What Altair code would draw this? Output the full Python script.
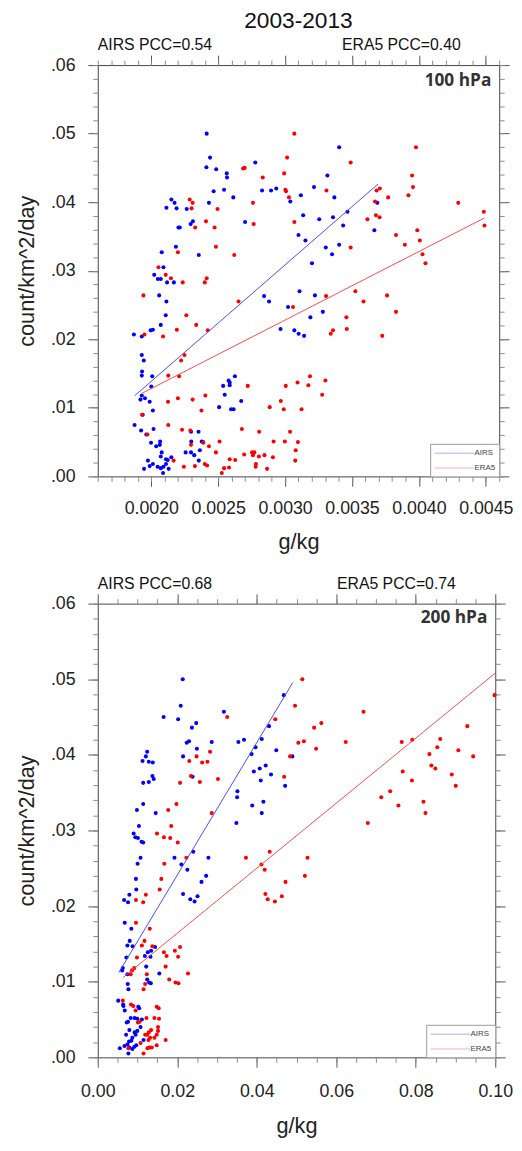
import altair as alt
import pandas as pd

F = "Liberation Sans"
TITLE = "2003-2013"
SERIES = ["AIRS", "ERA5"]
POINT_COLORS = ["#0000ff", "#ff0000"]
LINE_COLORS = ["#4a4aff", "#ff4a4a"]
LEVELS = ["100 hPa", "200 hPa"]
PCC100 = ["AIRS PCC=0.54", "ERA5 PCC=0.40"]
PCC200 = ["AIRS PCC=0.68", "ERA5 PCC=0.74"]
X_TITLE = "g/kg"
Y_TITLE = "count/km^2/day"

# ---- 100 hPa (x, y) ----
p100_airs = [
    (0.002414, 0.0500), (0.002439, 0.0465), (0.002412, 0.0451), (0.002485, 0.0448), (0.002564, 0.0442),
    (0.002566, 0.0436), (0.002777, 0.0458), (0.002466, 0.0416), (0.002544, 0.0418), (0.002613, 0.0407),
    (0.002431, 0.0399), (0.002150, 0.0404), (0.002174, 0.0399), (0.002113, 0.0392), (0.002189, 0.0391),
    (0.002265, 0.0390), (0.002311, 0.0372), (0.002294, 0.0368), (0.002203, 0.0363), (0.002213, 0.0363),
    (0.002184, 0.0335), (0.002078, 0.0327), (0.002355, 0.0323), (0.002701, 0.0371), (0.002828, 0.0417),
    (0.002895, 0.0417), (0.002934, 0.0420), (0.003039, 0.0401), (0.003118, 0.0410), (0.003216, 0.0422),
    (0.003316, 0.0439), (0.003404, 0.0480), (0.003135, 0.0381), (0.003100, 0.0352), (0.003152, 0.0344),
    (0.003255, 0.0375), (0.003358, 0.0378), (0.003368, 0.0407), (0.003466, 0.0386), (0.003434, 0.0366),
    (0.003304, 0.0334), (0.003351, 0.0324), (0.003404, 0.0338), (0.003201, 0.0311), (0.003667, 0.0359),
    (0.003689, 0.0399), (0.002091, 0.0305),
    (0.002022, 0.0294), (0.002049, 0.0288), (0.002071, 0.0288), (0.002118, 0.0283), (0.002169, 0.0283),
    (0.002059, 0.0264), (0.002113, 0.0255), (0.002108, 0.0235), (0.002071, 0.0221), (0.002012, 0.0214),
    (0.001995, 0.0213), (0.001870, 0.0207), (0.001929, 0.0204), (0.001929, 0.0177), (0.001944, 0.0169),
    (0.001931, 0.0153), (0.001929, 0.0147), (0.002007, 0.0146), (0.002000, 0.0131), (0.001929, 0.0118),
    (0.001919, 0.0112), (0.001953, 0.0114), (0.001988, 0.0109), (0.002012, 0.0096), (0.001936, 0.0090),
    (0.001875, 0.0075), (0.001924, 0.0067), (0.002017, 0.0069), (0.001963, 0.0061), (0.002066, 0.0051),
    (0.001998, 0.0049), (0.002037, 0.0044), (0.002064, 0.0046), (0.002078, 0.0035), (0.002071, 0.0029),
    (0.002150, 0.0028), (0.002110, 0.0025), (0.002123, 0.0024), (0.001975, 0.0023), (0.002012, 0.0018),
    (0.001988, 0.0015), (0.001946, 0.0011), (0.002047, 0.0014), (0.002071, 0.0012), (0.002091, 0.0014),
    (0.002110, 0.0018), (0.002130, 0.0011), (0.002088, 0.0005), (0.002843, 0.0263), (0.002880, 0.0255),
    (0.003108, 0.0270), (0.003022, 0.0247), (0.003223, 0.0264), (0.003282, 0.0240), (0.003189, 0.0232),
    (0.002966, 0.0215), (0.003069, 0.0213), (0.003101, 0.0208), (0.003142, 0.0205), (0.002625, 0.0146),
    (0.002578, 0.0140), (0.002586, 0.0137), (0.002537, 0.0132), (0.002586, 0.0133), (0.002549, 0.0119),
    (0.002672, 0.0110), (0.002507, 0.0101), (0.002596, 0.0098), (0.002615, 0.0098), (0.002297, 0.0065),
    (0.002353, 0.0065), (0.002299, 0.0051), (0.002377, 0.0051), (0.002387, 0.0050), (0.002257, 0.0035),
    (0.002297, 0.0035), (0.002363, 0.0038), (0.002321, 0.0031), (0.002355, 0.0023),
]
p100_era5 = [
    (0.003069, 0.0500), (0.003015, 0.0465), (0.002993, 0.0442), (0.003002, 0.0418), (0.003007, 0.0416),
    (0.003029, 0.0407), (0.003069, 0.0371), (0.002686, 0.0449), (0.002698, 0.0450), (0.002833, 0.0436),
    (0.002760, 0.0399), (0.002765, 0.0368), (0.002620, 0.0323), (0.002495, 0.0390), (0.002473, 0.0363),
    (0.002409, 0.0372), (0.002483, 0.0335), (0.002287, 0.0404), (0.002309, 0.0399), (0.002301, 0.0391),
    (0.002328, 0.0363), (0.002199, 0.0327), (0.002054, 0.0305), (0.002108, 0.0294), (0.002414, 0.0289),
    (0.003309, 0.0417), (0.003490, 0.0458), (0.003490, 0.0334), (0.003615, 0.0375), (0.003684, 0.0417),
    (0.003708, 0.0420), (0.003672, 0.0401), (0.003679, 0.0381), (0.003706, 0.0378), (0.003770, 0.0407),
    (0.003829, 0.0352), (0.003895, 0.0338), (0.003922, 0.0410), (0.003949, 0.0439), (0.003956, 0.0422),
    (0.003978, 0.0480), (0.003988, 0.0359), (0.004007, 0.0344), (0.004027, 0.0324), (0.004049, 0.0311),
    (0.004294, 0.0399), (0.004485, 0.0386), (0.004490, 0.0366),
    (0.002147, 0.0289), (0.002235, 0.0283), (0.002400, 0.0283), (0.001941, 0.0264), (0.002652, 0.0255),
    (0.002262, 0.0235), (0.002336, 0.0221), (0.002191, 0.0214), (0.002422, 0.0213), (0.001949, 0.0207),
    (0.002088, 0.0204), (0.002248, 0.0177), (0.002223, 0.0169), (0.002208, 0.0146), (0.002127, 0.0147),
    (0.002199, 0.0114), (0.002125, 0.0109), (0.002309, 0.0112), (0.002404, 0.0118), (0.002375, 0.0096),
    (0.001931, 0.0090), (0.002127, 0.0075), (0.002230, 0.0068), (0.002292, 0.0067), (0.002677, 0.0069),
    (0.001971, 0.0061), (0.002297, 0.0046), (0.002389, 0.0049), (0.002431, 0.0044), (0.002510, 0.0051),
    (0.002483, 0.0035), (0.002167, 0.0023), (0.002243, 0.0014), (0.002326, 0.0015), (0.002400, 0.0018),
    (0.002417, 0.0016), (0.002544, 0.0012), (0.002527, 0.0005), (0.002581, 0.0013), (0.002586, 0.0025),
    (0.002627, 0.0024), (0.002694, 0.0032), (0.002753, 0.0035), (0.002760, 0.0031), (0.002770, 0.0035),
    (0.002782, 0.0018), (0.002780, 0.0014), (0.002804, 0.0029), (0.002846, 0.0031), (0.002865, 0.0011),
    (0.002909, 0.0028), (0.002806, 0.0065), (0.002914, 0.0051), (0.002998, 0.0051), (0.003096, 0.0050),
    (0.003079, 0.0038), (0.003076, 0.0023), (0.003037, 0.0065), (0.002721, 0.0132), (0.002885, 0.0101),
    (0.002968, 0.0110), (0.002990, 0.0098), (0.003005, 0.0132), (0.003093, 0.0137), (0.003123, 0.0098),
    (0.003174, 0.0133), (0.003186, 0.0146), (0.003277, 0.0119), (0.003301, 0.0140), (0.003059, 0.0247),
    (0.003306, 0.0263), (0.003341, 0.0208), (0.003358, 0.0213), (0.003461, 0.0215), (0.003458, 0.0232),
    (0.003525, 0.0270), (0.003586, 0.0255), (0.003726, 0.0205), (0.003762, 0.0264), (0.003829, 0.0240),
]

# ---- 200 hPa (x, y) ----
p200_airs = [
    (0.02138, 0.0500), (0.02088, 0.0465), (0.01657, 0.0450), (0.02022, 0.0447), (0.02477, 0.0442),
    (0.02369, 0.0436), (0.03173, 0.0457), (0.02237, 0.0416), (0.02295, 0.0418), (0.02867, 0.0417),
    (0.02494, 0.0408), (0.02146, 0.0398), (0.01243, 0.0404), (0.01210, 0.0398), (0.01127, 0.0392),
    (0.01284, 0.0391), (0.01384, 0.0390), (0.01375, 0.0372), (0.01408, 0.0368), (0.01143, 0.0363),
    (0.01284, 0.0364), (0.01143, 0.0335), (0.00986, 0.0327), (0.01458, 0.0323), (0.02386, 0.0371),
    (0.03538, 0.0417), (0.03679, 0.0420), (0.03969, 0.0410), (0.03869, 0.0401), (0.04126, 0.0421),
    (0.04308, 0.0438), (0.04491, 0.0406), (0.04681, 0.0479), (0.04896, 0.0398), (0.03927, 0.0378),
    (0.04076, 0.0382), (0.04225, 0.0386), (0.04101, 0.0366), (0.04358, 0.0374), (0.04714, 0.0359),
    (0.03513, 0.0352), (0.03505, 0.0344), (0.03886, 0.0333), (0.04167, 0.0338), (0.04126, 0.0323),
    (0.03488, 0.0310), (0.00903, 0.0296), (0.00944, 0.0291), (0.01011, 0.0290), (0.01036, 0.0306),
    (0.01102, 0.0285), (0.01143, 0.0284), (0.02403, 0.0272),
    (0.01077, 0.0264), (0.01002, 0.0256), (0.01930, 0.0264), (0.02104, 0.0255), (0.02254, 0.0248),
    (0.02784, 0.0264), (0.02726, 0.0240), (0.02610, 0.0232), (0.00961, 0.0236), (0.00969, 0.0222),
    (0.02146, 0.0216), (0.02328, 0.0209), (0.02436, 0.0206), (0.02510, 0.0213), (0.00795, 0.0215),
    (0.00762, 0.0205), (0.00663, 0.0208), (0.00679, 0.0178), (0.00845, 0.0170), (0.00804, 0.0154),
    (0.00746, 0.0148), (0.00878, 0.0147), (0.00721, 0.0132), (0.00630, 0.0118), (0.00613, 0.0115),
    (0.00746, 0.0110), (0.00754, 0.0097), (0.00771, 0.0090), (0.01442, 0.0146), (0.01342, 0.0141),
    (0.01259, 0.0139), (0.01185, 0.0134), (0.01326, 0.0133), (0.01218, 0.0120), (0.01549, 0.0111),
    (0.01243, 0.0103), (0.01292, 0.0099), (0.01334, 0.0098), (0.00514, 0.0075), (0.00638, 0.0070),
    (0.00646, 0.0068), (0.00679, 0.0062), (0.01019, 0.0067), (0.01044, 0.0065), (0.00829, 0.0052),
    (0.00928, 0.0052), (0.00994, 0.0051), (0.01110, 0.0050), (0.00730, 0.0046), (0.00762, 0.0047),
    (0.01077, 0.0040), (0.00795, 0.0036), (0.00928, 0.0033), (0.00994, 0.0035), (0.00713, 0.0030),
    (0.00953, 0.0030), (0.00870, 0.0026), (0.00845, 0.0022), (0.00787, 0.0021), (0.01152, 0.0023),
    (0.00555, 0.0012), (0.00671, 0.0015), (0.00746, 0.0017), (0.00795, 0.0013), (0.00870, 0.0011),
    (0.00920, 0.0014), (0.00969, 0.0016), (0.00771, 0.0005),
]
p200_era5 = [
    (0.05145, 0.0500), (0.04963, 0.0465), (0.04466, 0.0447), (0.03256, 0.0450), (0.06686, 0.0457),
    (0.05443, 0.0436), (0.05625, 0.0442), (0.05046, 0.0416), (0.05186, 0.0418), (0.06239, 0.0417),
    (0.05493, 0.0408), (0.04838, 0.0398), (0.07647, 0.0417), (0.07912, 0.0420), (0.08616, 0.0421),
    (0.08542, 0.0410), (0.08343, 0.0401), (0.09072, 0.0406), (0.09296, 0.0438), (0.09445, 0.0398),
    (0.09983, 0.0479), (0.07672, 0.0378), (0.08393, 0.0386), (0.08492, 0.0382), (0.07904, 0.0366),
    (0.08906, 0.0374), (0.09006, 0.0359), (0.07357, 0.0352), (0.07133, 0.0344), (0.07564, 0.0333),
    (0.08194, 0.0338), (0.08244, 0.0323), (0.06794, 0.0310), (0.04689, 0.0371), (0.02303, 0.0392),
    (0.02486, 0.0398), (0.02626, 0.0390), (0.02759, 0.0391), (0.02825, 0.0404), (0.02071, 0.0363),
    (0.02345, 0.0372), (0.02568, 0.0364), (0.03024, 0.0368), (0.01980, 0.0335), (0.01773, 0.0327),
    (0.02867, 0.0323), (0.01848, 0.0306), (0.01491, 0.0296), (0.01665, 0.0291), (0.01823, 0.0290),
    (0.02013, 0.0284), (0.04325, 0.0272),
    (0.02229, 0.0264), (0.01674, 0.0256), (0.03728, 0.0264), (0.04118, 0.0255), (0.04200, 0.0248),
    (0.05277, 0.0264), (0.05211, 0.0240), (0.04723, 0.0232), (0.01599, 0.0236), (0.01558, 0.0222),
    (0.04217, 0.0216), (0.04275, 0.0209), (0.04457, 0.0206), (0.04631, 0.0213), (0.01210, 0.0215),
    (0.01143, 0.0205), (0.00961, 0.0208), (0.00961, 0.0178), (0.01309, 0.0170), (0.01176, 0.0154),
    (0.01110, 0.0148), (0.01375, 0.0147), (0.02071, 0.0146), (0.01939, 0.0141), (0.01665, 0.0139),
    (0.01732, 0.0134), (0.02022, 0.0133), (0.00986, 0.0132), (0.01707, 0.0120), (0.02270, 0.0111),
    (0.00920, 0.0118), (0.00862, 0.0115), (0.00829, 0.0110), (0.01234, 0.0110), (0.01798, 0.0103),
    (0.01955, 0.0099), (0.02030, 0.0098), (0.01193, 0.0097), (0.01152, 0.0090), (0.00630, 0.0075),
    (0.00837, 0.0070), (0.00895, 0.0068), (0.00953, 0.0062), (0.01483, 0.0067), (0.01533, 0.0065),
    (0.01226, 0.0052), (0.01425, 0.0052), (0.01541, 0.0051), (0.01011, 0.0046), (0.01052, 0.0047),
    (0.01516, 0.0040), (0.01342, 0.0036), (0.01284, 0.0033), (0.01516, 0.0035), (0.01193, 0.0030),
    (0.01243, 0.0030), (0.01483, 0.0030), (0.01317, 0.0026), (0.01425, 0.0026), (0.01707, 0.0023),
    (0.01276, 0.0023), (0.01077, 0.0019), (0.01483, 0.0016), (0.01301, 0.0013), (0.01251, 0.0012),
    (0.01359, 0.0013), (0.00771, 0.0012), (0.01152, 0.0005),
]

# regression line end points
fit100_airs = [(0.001875, 0.01175), (0.003694, 0.04264)]
fit100_era5 = [(0.001929, 0.0121), (0.00449, 0.0377)]
fit200_airs = [(0.0053, 0.01122), (0.04905, 0.04955)]
fit200_era5 = [(0.0063, 0.01052), (0.1000, 0.05081)]

# axes
Y_DOMAIN = [0.0, 0.06]
Y_MAJOR = [0.0, 0.01, 0.02, 0.03, 0.04, 0.05, 0.06]
Y_MINOR = [round(i * 0.002, 3) for i in range(31)]
X100_DOMAIN = [0.0016, 0.0046]
X100_MAJOR = [0.0020, 0.0025, 0.0030, 0.0035, 0.0040, 0.0045]
X100_MINOR = [round(0.0016 + i * 0.0001, 4) for i in range(31)]
X200_DOMAIN = [0.0, 0.1]
X200_MAJOR = [0.0, 0.02, 0.04, 0.06, 0.08, 0.10]
X200_MINOR = [round(i * 0.005, 3) for i in range(21)]

MAJ_COLOR = "#555555"
MIN_COLOR = "#8a8a8a"


def frame(pairs_a, pairs_e):
    rows = [{"x": x, "y": y, "series": "AIRS"} for x, y in pairs_a]
    rows += [{"x": x, "y": y, "series": "ERA5"} for x, y in pairs_e]
    return pd.DataFrame(rows)


def axis(orient, values, **kw):
    base = dict(orient=orient, values=values, grid=False, domain=False, labelFlush=False,
                labelOverlap=False, ticks=True, tickWidth=1)
    base.update(kw)
    return alt.Axis(**base)


def panel(pa, pe, fa, fe, pcc, level, xdom, xmaj, xmin, xfmt, w, h, title=None,
          right_x=368, level_x=398, level_y=16, extend_left=None, x_title_pad=16,
          x_label_pad=11):
    df = frame(pa, pe)
    fit = frame(fa, fe)
    xs = alt.Scale(domain=xdom, nice=False, zero=False)
    ys = alt.Scale(domain=Y_DOMAIN, nice=False, zero=False)

    pts_airs = alt.Chart(df).transform_filter(alt.datum.series == SERIES[0]).mark_circle(
        size=17, opacity=1, color=POINT_COLORS[0]).encode(
        x=alt.X("x:Q", scale=xs, axis=axis(
            "bottom", xmaj, format=xfmt, title=X_TITLE, tickSize=10, tickColor=MAJ_COLOR,
            labelPadding=x_label_pad, titlePadding=x_title_pad)),
        y=alt.Y("y:Q", scale=ys, axis=axis(
            "left", Y_MAJOR, labelExpr="substring(format(datum.value,'.2f'),1)",
            title=Y_TITLE, tickSize=10, tickColor=MAJ_COLOR, labelPadding=13, titlePadding=12)),
    )
    pts_era5 = alt.Chart(df).transform_filter(alt.datum.series == SERIES[1]).mark_circle(
        size=17, opacity=1, color=POINT_COLORS[1]).encode(
        x=alt.X("x:Q", scale=xs, axis=None),
        y=alt.Y("y:Q", scale=ys, axis=None),
    )

    lines = alt.Chart(fit).mark_line(strokeWidth=1).encode(
        x=alt.X("x:Q", scale=xs, axis=axis(
            "top", xmaj, labels=False, title=None, tickSize=10, tickColor=MAJ_COLOR)),
        y=alt.Y("y:Q", scale=ys, axis=axis(
            "right", Y_MAJOR, labels=False, title=None, tickSize=10, tickColor=MAJ_COLOR)),
        stroke=alt.Stroke("series:N", scale=alt.Scale(domain=SERIES, range=LINE_COLORS),
                          legend=alt.Legend(
                              orient="bottom-right", offset=0, title=None,
                              symbolType="M-1,0H7", symbolSize=100, symbolStrokeWidth=1,
                              symbolOpacity=0.45, labelFontSize=8, labelFont=F, labelColor="#444",
                              labelOffset=30, strokeColor="#999999", fillColor="white",
                              padding=4, rowPadding=5)),
    )

    minor_bl = alt.Chart(df).mark_circle(opacity=0).encode(
        x=alt.X("x:Q", scale=xs, axis=axis(
            "bottom", xmin, labels=False, title=None, tickSize=5, tickColor=MIN_COLOR)),
        y=alt.Y("y:Q", scale=ys, axis=axis(
            "left", Y_MINOR, labels=False, title=None, tickSize=5, tickColor=MIN_COLOR)),
    )
    minor_tr = alt.Chart(df).mark_circle(opacity=0).encode(
        x=alt.X("x:Q", scale=xs, axis=axis(
            "top", xmin, labels=False, title=None, tickSize=5, tickColor=MIN_COLOR)),
        y=alt.Y("y:Q", scale=ys, axis=axis(
            "right", Y_MINOR, labels=False, title=None, tickSize=5, tickColor=MIN_COLOR)),
    )

    ann = pd.DataFrame({"t": pcc})
    t_left = alt.Chart(ann.iloc[[0]]).mark_text(
        align="left", baseline="middle", font=F, fontSize=16, color="#111").encode(
        x=alt.value(0), y=alt.value(-20), text="t:N")
    t_right = alt.Chart(ann.iloc[[1]]).mark_text(
        align="right", baseline="middle", font=F, fontSize=16, color="#111").encode(
        x=alt.value(right_x), y=alt.value(-20), text="t:N")
    t_level = alt.Chart(pd.DataFrame({"t": [level]})).mark_text(
        align="right", baseline="middle", font="Open Sans", fontWeight="bold", fontSize=17.5,
        color="#333").encode(x=alt.value(level_x), y=alt.value(level_y), text="t:N")

    layers = [pts_airs, pts_era5, lines, minor_bl, minor_tr, t_left, t_right, t_level]
    if title is not None:
        t_title = alt.Chart(pd.DataFrame({"t": [title]})).mark_text(
            align="center", baseline="top", font=F, fontSize=23, color="#111").encode(
            x=alt.value(w / 2), y=alt.value(-56), text="t:N")
        layers.append(t_title)
    if extend_left is not None:
        # invisible spacer so that this panel sits a few pixels right of the other one
        spacer = alt.Chart(pd.DataFrame({"t": [0]})).mark_point(
            opacity=0, size=1, strokeWidth=0).encode(
            x=alt.value(-extend_left), y=alt.value(h / 2))
        layers.append(spacer)

    return alt.layer(*layers).resolve_axis(x="independent", y="independent").properties(
        width=w, height=h)


p1 = panel(p100_airs, p100_era5, fit100_airs, fit100_era5, PCC100, LEVELS[0],
           X100_DOMAIN, X100_MAJOR, X100_MINOR, ".4f", 407, 417, title=TITLE,
           right_x=368, level_x=399, level_y=16, extend_left=85,
           x_label_pad=14, x_title_pad=14)
p2 = panel(p200_airs, p200_era5, fit200_airs, fit200_era5, PCC200, LEVELS[1],
           X200_DOMAIN, X200_MAJOR, X200_MINOR, ".2f", 403, 460,
           right_x=363, level_x=395, level_y=15, x_label_pad=16, x_title_pad=15)

chart = alt.concat(p1, p2, columns=1, spacing=22, align="none").resolve_scale(
    x="independent", y="independent", stroke="independent"
).resolve_legend(stroke="independent").properties(
    padding={"left": 5, "top": -7, "right": 0, "bottom": 0}, background="white"
).configure_view(stroke="#444444", strokeWidth=1).configure_axis(
    labelFont=F, titleFont=F, labelFontSize=18, titleFontSize=22,
    labelColor="#222222", titleColor="#222222", titleFontWeight="normal"
)

chart.save("out.html", embed_options={"renderer": "svg", "actions": False})
